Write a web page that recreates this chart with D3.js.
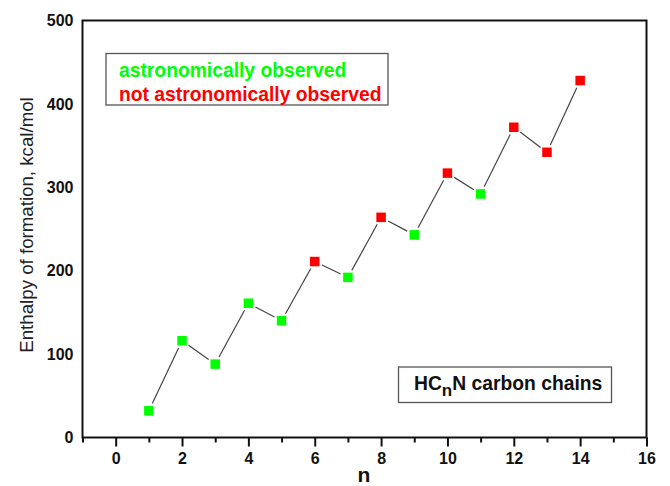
<!DOCTYPE html>
<html>
<head>
<meta charset="utf-8">
<script src="https://cdn.jsdelivr.net/npm/d3@7"></script>
<style>
  html, body { margin: 0; padding: 0; background: #fff; }
  svg { display: block; font-family: "Liberation Sans", Arial, sans-serif; }
</style>
</head>
<body>
<svg id="chart" width="670" height="486"></svg>
<script>
// ---- data ----
const nValues = [1, 2, 3, 4, 5, 6, 7, 8, 9, 10, 11, 12, 13, 14];
const enthalpy = [32, 116, 88, 161, 140, 211, 192, 264, 243, 317, 292, 372, 342, 428];
const observed = [true, true, true, true, true, false, true, false, true, false, true, false, false, false];
const xTicks = [0, 2, 4, 6, 8, 10, 12, 14, 16];
const xMinorTicks = [-1, 1, 3, 5, 7, 9, 11, 13, 15];
const yTicks = [0, 100, 200, 300, 400, 500];
const legendLabels = ["astronomically observed", "not astronomically observed"];

const GREEN = "#00ff00", RED = "#ff0000";

const svg = d3.select("#chart");
const mLeft = 82.5, mRight = 646.5, mTop = 20.5, mBottom = 437.5;

const x = d3.scaleLinear().domain([-1, 16]).range([mLeft, mRight]);
const y = d3.scaleLinear().domain([0, 500]).range([mBottom, mTop]);

// frame
svg.append("rect")
  .attr("x", mLeft).attr("y", mTop)
  .attr("width", mRight - mLeft).attr("height", mBottom - mTop)
  .attr("fill", "none").attr("stroke", "#111").attr("stroke-width", 2);

// x axis
const xAxis = d3.axisBottom(x).tickValues(xTicks).tickSize(9).tickPadding(6).tickFormat(d3.format("d"));
const gx = svg.append("g").attr("transform", `translate(0,${mBottom})`).call(xAxis);
gx.select(".domain").remove();
gx.selectAll(".tick line").attr("stroke", "#111").attr("stroke-width", 2);
gx.selectAll(".tick text").attr("font-size", 16).attr("font-weight", "bold").attr("fill", "#111")
  .attr("font-family", "Liberation Sans, Arial, sans-serif");

const xAxisMinor = d3.axisBottom(x).tickValues(xMinorTicks).tickSize(5).tickFormat("");
const gxm = svg.append("g").attr("transform", `translate(0,${mBottom})`).call(xAxisMinor);
gxm.select(".domain").remove();
gxm.selectAll(".tick line").attr("stroke", "#111").attr("stroke-width", 2);

// y axis (labels only)
const yAxis = d3.axisLeft(y).tickValues(yTicks).tickSize(0).tickPadding(9).tickFormat(d3.format("d"));
const gy = svg.append("g").attr("transform", `translate(${mLeft},0)`).call(yAxis);
gy.select(".domain").remove();
gy.selectAll(".tick text").attr("font-size", 16).attr("font-weight", "bold").attr("fill", "#111")
  .attr("font-family", "Liberation Sans, Arial, sans-serif");

// axis titles
svg.append("text")
  .attr("x", 364).attr("y", 482)
  .attr("text-anchor", "middle")
  .attr("font-size", 21).attr("font-weight", "bold").attr("fill", "#111")
  .text("n");

svg.append("text")
  .attr("transform", `translate(33,225) rotate(-90)`)
  .attr("text-anchor", "middle")
  .attr("font-size", 18.7).attr("fill", "#222")
  .text("Enthalpy of formation, kcal/mol");

// connecting line segments with small gaps around markers
const pts = nValues.map((n, i) => ({ n, v: enthalpy[i], obs: observed[i] }));
const gap = 8;
const segs = [];
for (let i = 0; i < pts.length - 1; i++) {
  const x1 = x(pts[i].n), y1 = y(pts[i].v), x2 = x(pts[i + 1].n), y2 = y(pts[i + 1].v);
  const len = Math.hypot(x2 - x1, y2 - y1);
  const ux = (x2 - x1) / len, uy = (y2 - y1) / len;
  segs.push({ x1: x1 + ux * gap, y1: y1 + uy * gap, x2: x2 - ux * gap, y2: y2 - uy * gap });
}
svg.append("g").selectAll("line").data(segs).join("line")
  .attr("x1", d => d.x1).attr("y1", d => d.y1)
  .attr("x2", d => d.x2).attr("y2", d => d.y2)
  .attr("stroke", "#444").attr("stroke-width", 1.2);

// markers
const ms = 9.5;
svg.append("g").selectAll("rect").data(pts).join("rect")
  .attr("x", d => x(d.n) - ms / 2).attr("y", d => y(d.v) - ms / 2)
  .attr("width", ms).attr("height", ms)
  .attr("fill", d => d.obs ? GREEN : RED);

// legend box
svg.append("rect")
  .attr("x", 106).attr("y", 53.5).attr("width", 282).attr("height", 51.5)
  .attr("fill", "#fff").attr("stroke", "#555").attr("stroke-width", 1.3);
svg.append("text").attr("x", 119).attr("y", 76.5)
  .attr("font-size", 19.3).attr("font-weight", "bold").attr("fill", GREEN)
  .text(legendLabels[0]);
svg.append("text").attr("x", 119).attr("y", 101)
  .attr("font-size", 19.3).attr("font-weight", "bold").attr("fill", RED)
  .text(legendLabels[1]);

// title box
svg.append("rect")
  .attr("x", 398.5).attr("y", 367).attr("width", 213).attr("height", 35.5)
  .attr("fill", "#fff").attr("stroke", "#555").attr("stroke-width", 1.3);
const t = svg.append("text").attr("x", 414).attr("y", 389.5)
  .attr("font-size", 19.3).attr("font-weight", "bold").attr("fill", "#111");
t.append("tspan").text("HC");
t.append("tspan").attr("dy", 6).attr("font-size", 17).text("n");
t.append("tspan").attr("dy", -6).text("N carbon chains");
</script>
</body>
</html>
